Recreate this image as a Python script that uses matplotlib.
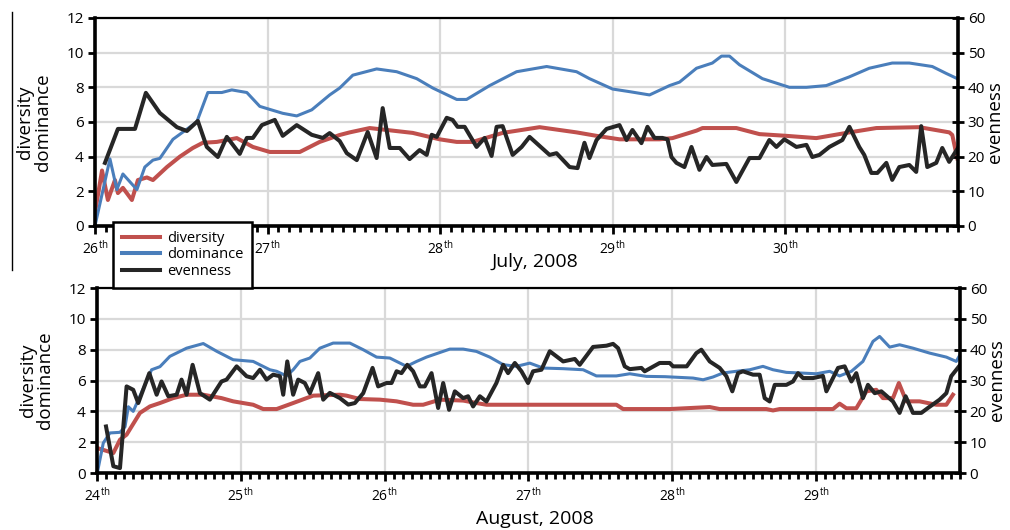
import matplotlib
matplotlib.use("Agg")
import matplotlib.pyplot as plt
from matplotlib.lines import Line2D
from matplotlib.ticker import MultipleLocator

plt.rcParams['font.family'] = ['Open Sans', 'DejaVu Sans']
plt.rcParams['mathtext.fontset'] = 'custom'
plt.rcParams['mathtext.rm'] = 'Open Sans'

RED = '#c0504d'
BLUE = '#4a7ebb'
BLACK = '#262626'
GRID = '#d9d9d9'

# ---- July 2008 (x = day of month) ----
jul_days = [26, 27, 28, 29, 30]

jul_div_t = [26.0, 26.041, 26.075, 26.116, 26.133, 26.162, 26.214, 26.249, 26.301, 26.336,
             26.417, 26.492, 26.567, 26.625, 26.706, 26.822, 26.915, 27.013, 27.187, 27.302,
             27.418, 27.476, 27.592, 27.841, 27.997, 28.096, 28.188, 28.362, 28.576, 28.79,
             28.906, 29.039, 29.271, 29.346, 29.485, 29.52, 29.716, 29.85, 30.006, 30.179,
             30.353, 30.527, 30.776, 30.95, 30.967, 30.996]
jul_div = [0.75, 3.2, 1.5, 2.65, 1.9, 2.2, 1.5, 2.65, 2.8, 2.65,
           3.4, 4.0, 4.5, 4.8, 4.85, 5.07, 4.56, 4.27, 4.27, 4.85,
           5.25, 5.4, 5.65, 5.37, 5.0, 4.85, 4.85, 5.37, 5.7, 5.4,
           5.2, 5.0, 5.0, 5.07, 5.5, 5.65, 5.65, 5.3, 5.2, 5.07,
           5.37, 5.65, 5.7, 5.4, 5.25, 3.9]

jul_dom_t = [26.0, 26.087, 26.127, 26.162, 26.243, 26.289, 26.336, 26.376, 26.452, 26.59,
             26.654, 26.735, 26.793, 26.88, 26.955, 27.088, 27.169, 27.256, 27.36, 27.418,
             27.494, 27.632, 27.748, 27.864, 27.957, 28.096, 28.153, 28.287, 28.443, 28.617,
             28.79, 28.865, 28.999, 29.097, 29.213, 29.329, 29.387, 29.485, 29.577, 29.63,
             29.676, 29.734, 29.867, 30.023, 30.122, 30.237, 30.37, 30.486, 30.619, 30.718,
             30.851, 30.932, 30.996]
jul_dom = [0.0, 3.87, 2.1, 3.0, 2.1, 3.4, 3.8, 3.9, 5.0, 6.0,
           7.7, 7.7, 7.85, 7.7, 6.9, 6.5, 6.35, 6.7, 7.56, 7.96,
           8.7, 9.06, 8.9, 8.5, 7.96, 7.3, 7.3, 8.1, 8.9, 9.2,
           8.9, 8.5, 7.9, 7.75, 7.56, 8.1, 8.3, 9.1, 9.4, 9.8,
           9.8, 9.3, 8.5, 8.0, 8.0, 8.1, 8.6, 9.1, 9.4, 9.4,
           9.2, 8.8, 8.5]

jul_even_t = [26.058, 26.133, 26.232, 26.295, 26.376, 26.475, 26.533, 26.596, 26.648, 26.712,
              26.764, 26.839, 26.88, 26.915, 26.967, 27.042, 27.088, 27.169, 27.256, 27.32,
              27.36, 27.418, 27.459, 27.517, 27.58, 27.632, 27.667, 27.708, 27.766, 27.823,
              27.881, 27.922, 27.951, 27.98, 28.038, 28.072, 28.101, 28.142, 28.211, 28.258,
              28.298, 28.327, 28.362, 28.42, 28.472, 28.518, 28.634, 28.674, 28.75, 28.796,
              28.836, 28.865, 28.906, 28.964, 29.039, 29.08, 29.114, 29.166, 29.201, 29.242,
              29.288, 29.317, 29.34, 29.369, 29.415, 29.456, 29.502, 29.543, 29.577, 29.658,
              29.716, 29.792, 29.85, 29.907, 29.948, 29.994, 30.064, 30.122, 30.156, 30.197,
              30.255, 30.33, 30.371, 30.428, 30.457, 30.498, 30.533, 30.585, 30.619, 30.66,
              30.718, 30.758, 30.787, 30.822, 30.874, 30.909, 30.949, 30.996]
jul_even = [18.2, 28, 28, 38.4, 32.6, 28.5, 27.4, 30.3, 22.8, 19.9,
            25.7, 20.8, 25.4, 25.4, 29.1, 30.6, 26, 29.1, 26.3, 25.4,
            26.8, 24.5, 21, 19, 27.1, 19.6, 34, 22.5, 22.5, 19.3,
            21.9, 20.5, 26.3, 25.7, 31.2, 30.6, 28.6, 28.6, 22.8, 25.4,
            20.2, 28.6, 28.8, 20.5, 22.8, 25.7, 20.5, 21, 17, 16.7,
            24, 19.6, 24.8, 28, 29.1, 24.8, 27.7, 23.9, 28.6, 25.4,
            25.4, 25, 19.9, 18.2, 17, 22.8, 16.2, 19.9, 17.6, 17.9,
            12.7, 19.6, 19.6, 24.8, 22.8, 25, 22.8, 23.4, 19.9, 20.5,
            22.8, 24.8, 28.6, 22.8, 20.5, 15.3, 15.3, 18.2, 13.3, 17,
            17.6, 15.6, 28.8, 17, 18.2, 22.5, 18.5, 22.2]

# ---- August 2008 ----
aug_days = [24, 25, 26, 27, 28, 29]

aug_div_t = [24.002, 24.114, 24.16, 24.206, 24.299, 24.368, 24.438, 24.53, 24.623, 24.739,
             24.866, 24.947, 25.086, 25.156, 25.249, 25.364, 25.503, 25.689, 25.735, 25.828,
             25.967, 26.083, 26.198, 26.268, 26.384, 26.546, 26.638, 26.708, 27.009, 27.611,
             27.658, 27.982, 28.26, 28.329, 28.654, 28.7, 28.746, 29.117, 29.163, 29.21,
             29.279, 29.349, 29.418, 29.464, 29.534, 29.575, 29.627, 29.719, 29.835, 29.905,
             29.951]
aug_div = [1.62, 1.3, 2.16, 2.49, 3.9, 4.32, 4.54, 4.86, 5.08, 5.08,
           4.86, 4.65, 4.43, 4.15, 4.15, 4.54, 5.02, 5.08, 5.02, 4.8,
           4.76, 4.65, 4.43, 4.43, 4.76, 4.7, 4.54, 4.43, 4.43, 4.43,
           4.15, 4.15, 4.28, 4.15, 4.15, 4.06, 4.15, 4.15, 4.5, 4.2,
           4.2, 5.3, 5.4, 4.86, 4.86, 5.84, 4.65, 4.65, 4.43, 4.43,
           5.08]

aug_dom_t = [24.002, 24.044, 24.09, 24.16, 24.195, 24.218, 24.252, 24.299, 24.38, 24.438,
             24.507, 24.623, 24.739, 24.832, 24.947, 25.086, 25.202, 25.249, 25.318, 25.364,
             25.411, 25.48, 25.55, 25.642, 25.758, 25.851, 25.944, 26.036, 26.152, 26.222,
             26.291, 26.453, 26.546, 26.638, 26.731, 26.824, 26.916, 27.009, 27.102, 27.241,
             27.38, 27.472, 27.611, 27.704, 27.82, 27.95, 28.144, 28.214, 28.283, 28.352,
             28.445, 28.538, 28.63, 28.7, 28.793, 28.885, 29.001, 29.094, 29.163, 29.245,
             29.325, 29.395, 29.441, 29.511, 29.58, 29.673, 29.789, 29.905, 29.974, 30.0]
aug_dom = [0.0, 1.95, 2.6, 2.64, 3.0, 4.3, 4.0, 5.0, 6.7, 6.9,
           7.57, 8.1, 8.4, 7.9, 7.35, 7.24, 6.7, 6.6, 6.3, 6.7,
           7.24, 7.46, 8.1, 8.43, 8.43, 8.0, 7.52, 7.46, 6.92, 7.24,
           7.52, 8.04, 8.04, 7.89, 7.52, 7.03, 6.92, 7.13, 6.81, 6.77,
           6.7, 6.3, 6.3, 6.44, 6.27, 6.25, 6.16, 6.05, 6.23, 6.49,
           6.6, 6.7, 6.92, 6.7, 6.53, 6.49, 6.44, 6.6, 6.3, 6.6,
           7.24, 8.54, 8.86, 8.17, 8.32, 8.1, 7.78, 7.52, 7.24, 7.68]

aug_even_t = [24.063, 24.114, 24.16, 24.206, 24.252, 24.287, 24.364, 24.415, 24.449, 24.496,
              24.554, 24.588, 24.623, 24.665, 24.716, 24.785, 24.866, 24.901, 24.971, 25.04,
              25.086, 25.133, 25.179, 25.225, 25.272, 25.295, 25.323, 25.364, 25.399, 25.445,
              25.48, 25.538, 25.573, 25.619, 25.689, 25.747, 25.793, 25.851, 25.916, 25.955,
              26.013, 26.048, 26.083, 26.117, 26.157, 26.198, 26.245, 26.279, 26.326, 26.372,
              26.407, 26.448, 26.488, 26.546, 26.58, 26.615, 26.662, 26.708, 26.777, 26.824,
              26.858, 26.905, 26.951, 26.997, 27.032, 27.09, 27.148, 27.241, 27.322, 27.356,
              27.449, 27.542, 27.588, 27.623, 27.669, 27.704, 27.785, 27.808, 27.912, 27.982,
              28.005, 28.1, 28.167, 28.202, 28.26, 28.329, 28.376, 28.417, 28.457, 28.491,
              28.561, 28.607, 28.642, 28.677, 28.712, 28.793, 28.839, 28.874, 28.909, 28.978,
              29.047, 29.071, 29.152, 29.198, 29.245, 29.279, 29.325, 29.36, 29.407, 29.453,
              29.534, 29.58, 29.622, 29.673, 29.731, 29.777, 29.858, 29.905, 29.939, 29.993]
aug_even = [15.1, 2.2, 1.6, 28.1, 27, 22.7, 32.4, 25.4, 29.7, 24.9,
            25.4, 30.3, 25.4, 35.1, 25.9, 23.8, 29.7, 30.3, 34.6, 31.4,
            30.8, 33.5, 30.3, 31.9, 31.4, 25.4, 36.2, 25.4, 30.3, 29.2,
            25.9, 32.4, 23.8, 26, 24.3, 22.2, 22.7, 25.9, 34.1, 28.1,
            29.2, 29.2, 33, 32.4, 35.1, 33, 28.1, 28.1, 32.4, 21.1,
            29.2, 20.5, 26.5, 24.3, 24.9, 21.6, 24.9, 23.2, 29.2, 35.1,
            32.4, 35.7, 33, 29.2, 33, 33.5, 39.5, 36.2, 37, 35.1,
            40.9, 41.3, 41.9, 40.5, 34.6, 33.7, 34.1, 33, 35.7, 35.7,
            34.6, 34.6, 38.9, 40, 36.2, 34.1, 31.4, 26.5, 32.4, 33,
            31.9, 31.9, 24.3, 23.2, 28.6, 28.6, 29.7, 32.4, 30.8, 30.8,
            31.5, 26.5, 34.1, 34.6, 29.7, 32.4, 24.3, 28.6, 25.9, 26.5,
            23.2, 19.5, 24.9, 19.5, 19.5, 21.1, 23.8, 25.9, 31.4, 34.6]


def draw_panel(ax, days, div_t, div, dom_t, dom, even_t, even):
    ax.plot(div_t, div, color=RED, lw=2.9, solid_joinstyle='round')
    ax.plot(dom_t, dom, color=BLUE, lw=2.2, solid_joinstyle='round')
    ax2 = ax.twinx()
    ax2.plot(even_t, even, color=BLACK, lw=2.9, solid_joinstyle='round')

    ax.set_xlim(days[0], days[-1] + 1)
    ax.set_ylim(0, 12)
    ax2.set_ylim(0, 60)
    ax.set_yticks(range(0, 13, 2))
    ax2.set_yticks(range(0, 61, 10))
    ax.set_xticks(days)
    ax.set_xticklabels([f'{d}$^{{\\rm th}}$' for d in days])
    ax.xaxis.set_minor_locator(MultipleLocator(1 / 16))

    ax.set_axisbelow(True)
    ax.grid(True, which='major', color=GRID, lw=1.6)

    ax.tick_params(axis='x', which='major', direction='out', length=6, width=2,
                   labelsize=10, pad=4)
    ax.tick_params(axis='x', which='minor', direction='out', length=4, width=2)
    ax.tick_params(axis='y', direction='out', length=5, width=2, labelsize=11, pad=3)
    ax2.tick_params(axis='y', direction='inout', length=8, width=2, labelsize=11, pad=3)

    for s in ['left', 'bottom']:
        ax.spines[s].set_linewidth(2.6)
    ax.spines['top'].set_linewidth(1.6)
    ax.spines['right'].set_visible(False)
    for s in ['left', 'bottom', 'top']:
        ax2.spines[s].set_visible(False)
    ax2.spines['right'].set_linewidth(2.6)

    ax.set_ylabel('diversity\ndominance', fontsize=13.5, linespacing=0.95)
    ax.yaxis.set_label_coords(-0.05, 0.5)
    ax2.set_ylabel('evenness', fontsize=13.5)
    ax2.yaxis.set_label_coords(1.033, 0.5)
    return ax2


fig = plt.figure(figsize=(10.1, 5.3), dpi=100)
ax_top = fig.add_axes([0.094, 0.5736, 0.8545, 0.3925])
ax_bot = fig.add_axes([0.096, 0.1075, 0.8545, 0.349])

draw_panel(ax_top, jul_days, jul_div_t, jul_div, jul_dom_t, jul_dom, jul_even_t, jul_even)
draw_panel(ax_bot, aug_days, aug_div_t, aug_div, aug_dom_t, aug_dom, aug_even_t, aug_even)

fig.text(535 / 1010, 1 - 262 / 530, 'July, 2008', ha='center', va='center', fontsize=14)
fig.text(535 / 1010, 1 - 519 / 530, 'August, 2008', ha='center', va='center', fontsize=14)

# stray vertical rule at the left edge of the original figure
fig.add_artist(Line2D([12 / 1010, 12 / 1010], [1 - 12 / 530, 1 - 270 / 530],
                      transform=fig.transFigure, color='black', lw=1.0))

handles = [Line2D([], [], color=RED, lw=2.9),
           Line2D([], [], color=BLUE, lw=2.9),
           Line2D([], [], color=BLACK, lw=2.9)]
leg = fig.legend(handles, ['diversity', 'dominance', 'evenness'],
                 loc='upper left', bbox_to_anchor=(113 / 1010, 1 - 222 / 530),
                 fontsize=10.5, frameon=True, fancybox=False, framealpha=1,
                 edgecolor='black', borderpad=0.6, labelspacing=0.12,
                 handlelength=2.6, handletextpad=0.5, borderaxespad=0)
leg.get_frame().set_linewidth(1.8)

fig.savefig('out.png', dpi=100)
